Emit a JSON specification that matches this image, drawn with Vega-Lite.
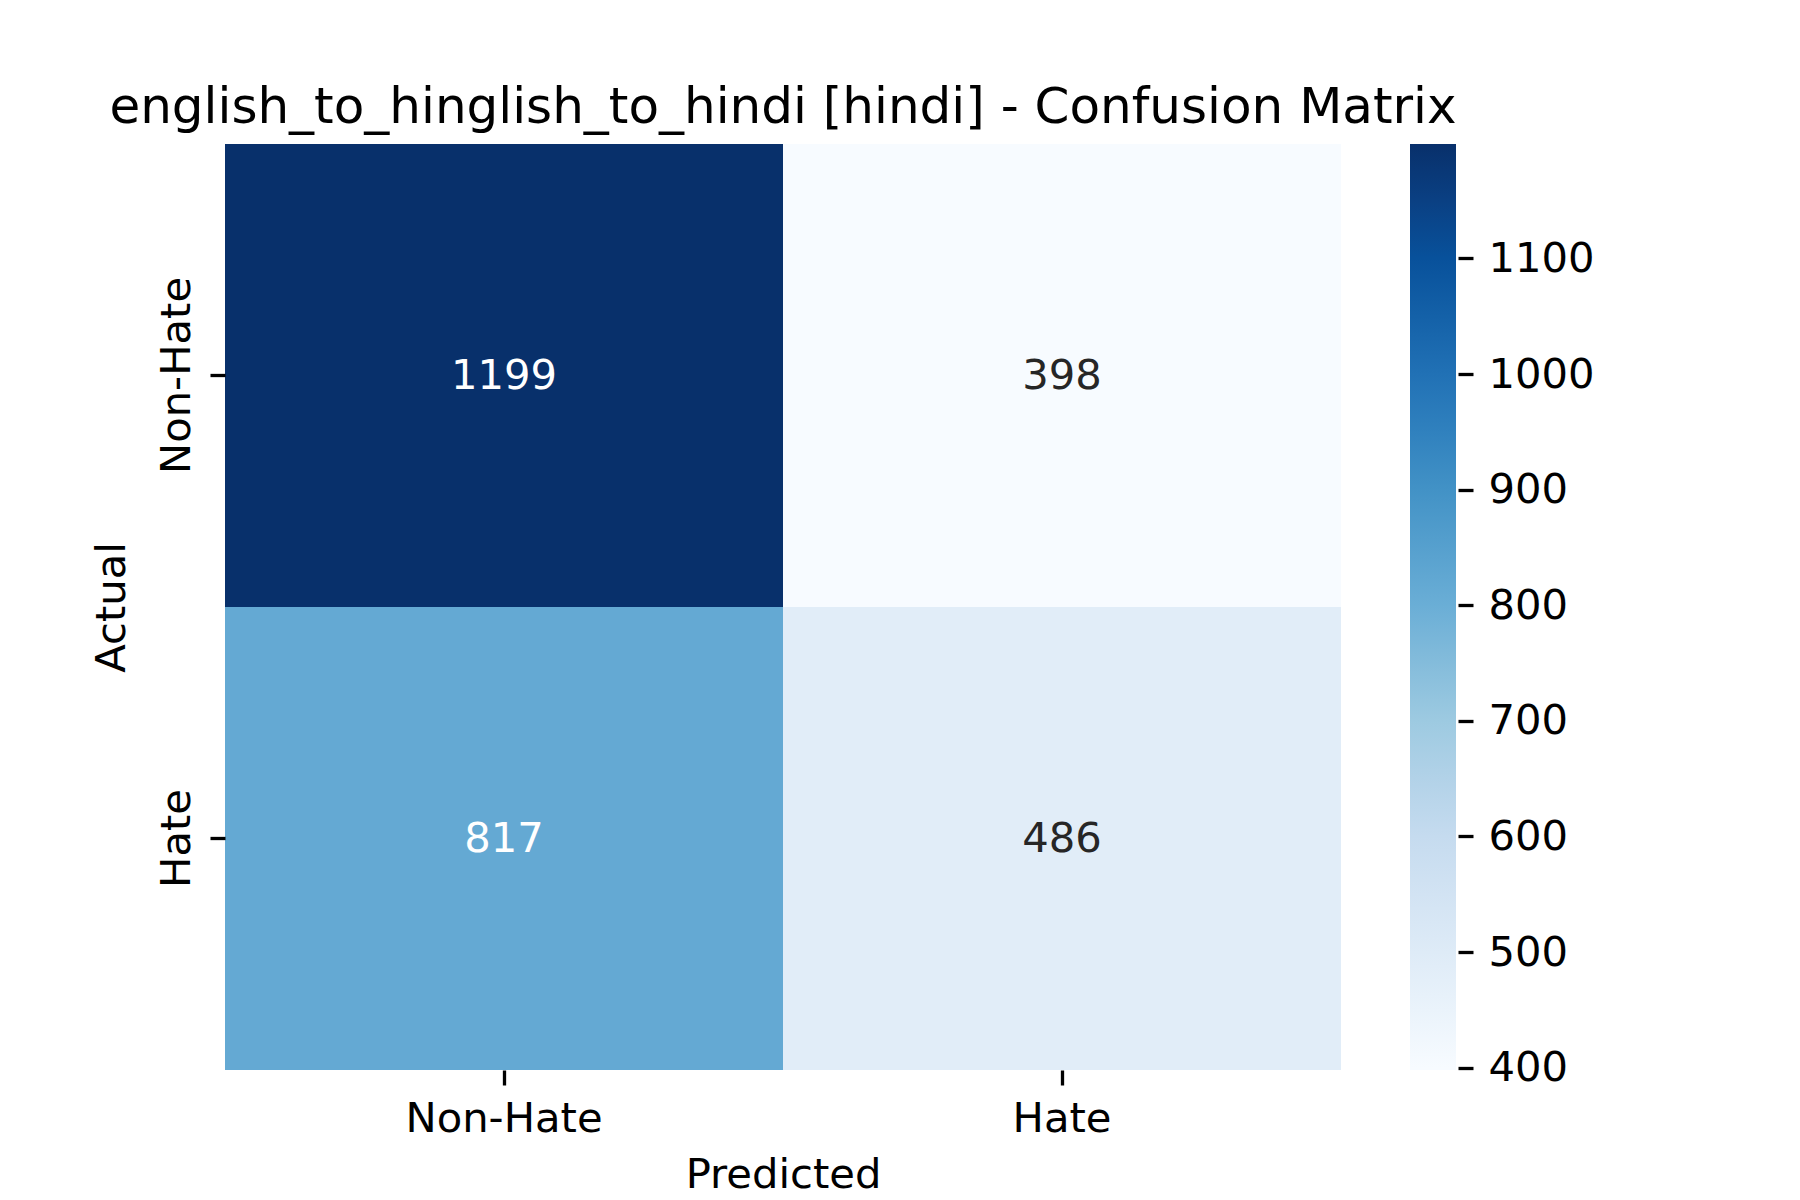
{
  "$schema": "https://vega.github.io/schema/vega-lite/v6.json",
  "width": 1116,
  "height": 926,
  "autosize": "none",
  "padding": {"left": 225, "top": 144, "right": 459, "bottom": 130},
  "background": "white",
  "config": {
    "font": "DejaVu Sans",
    "view": {"stroke": null},
    "axis": {
      "labelColor": "black",
      "titleColor": "black",
      "tickColor": "black",
      "labelFontSize": 41.7,
      "titleFontSize": 41.7,
      "titleFontWeight": "normal",
      "labelLimit": 0,
      "tickSize": 15,
      "tickWidth": 3.3,
      "domain": false,
      "grid": false
    }
  },
  "title": {
    "text": "english_to_hinglish_to_hindi [hindi] - Confusion Matrix",
    "fontSize": 50,
    "fontWeight": "normal",
    "color": "black",
    "anchor": "middle",
    "baseline": "bottom",
    "offset": 13,
    "dy": 52
  },
  "data": {
    "values": [
      {"actual": "Non-Hate", "predicted": "Non-Hate", "count": 1199},
      {"actual": "Non-Hate", "predicted": "Hate", "count": 398},
      {"actual": "Hate", "predicted": "Non-Hate", "count": 817},
      {"actual": "Hate", "predicted": "Hate", "count": 486}
    ]
  },
  "encoding": {
    "x": {
      "field": "predicted",
      "type": "nominal",
      "sort": ["Non-Hate", "Hate"],
      "scale": {"paddingInner": 0, "paddingOuter": 0},
      "axis": {
        "title": "Predicted",
        "labelAngle": 0,
        "labelPadding": 13,
        "titlePadding": 15
      }
    }
  },
  "layer": [
    {
      "encoding": {
        "y": {
          "field": "actual",
          "type": "nominal",
          "sort": ["Non-Hate", "Hate"],
          "scale": {"paddingInner": 0, "paddingOuter": 0},
          "axis": {
            "title": "Actual",
            "labelAngle": 270,
            "labelAlign": "center",
            "labelBaseline": "alphabetic",
            "labelPadding": 21,
            "titleBaseline": "alphabetic",
            "titlePadding": 32
          }
        }
      },
      "layer": [
        {
          "mark": {"type": "rect", "strokeWidth": 0},
          "encoding": {
            "color": {
              "field": "count",
              "type": "quantitative",
              "scale": {
                "type": "linear",
                "domain": [398, 498.125, 598.25, 698.375, 798.5, 898.625, 998.75, 1098.875, 1199],
                "range": ["#f7fbff", "#deebf7", "#c6dbef", "#9ecae1", "#6baed6", "#4292c6", "#2171b5", "#08519c", "#08306b"]
              },
              "legend": {
                "orient": "none",
                "legendX": 1185,
                "legendY": 0,
                "direction": "vertical",
                "gradientLength": 926,
                "gradientThickness": 46,
                "gradientStrokeWidth": 0,
                "labelExpr": "''",
                "title": null
              }
            }
          }
        },
        {
          "mark": {"type": "text", "fontSize": 41.7, "baseline": "middle", "align": "center"},
          "encoding": {
            "text": {"field": "count", "type": "quantitative"},
            "color": {
              "condition": {"test": "datum.count > 700", "value": "white"},
              "value": "#262626"
            }
          }
        }
      ]
    },
    {
      "mark": {"type": "tick", "opacity": 0},
      "encoding": {
        "y": {
          "field": "count",
          "type": "quantitative",
          "scale": {"domain": [398, 1199], "nice": false, "zero": false},
          "axis": {
            "orient": "right",
            "offset": 117,
            "values": [400, 500, 600, 700, 800, 900, 1000, 1100],
            "format": "d",
            "labelPadding": 15,
            "title": null
          }
        }
      }
    }
  ],
  "resolve": {"scale": {"y": "independent"}}
}
